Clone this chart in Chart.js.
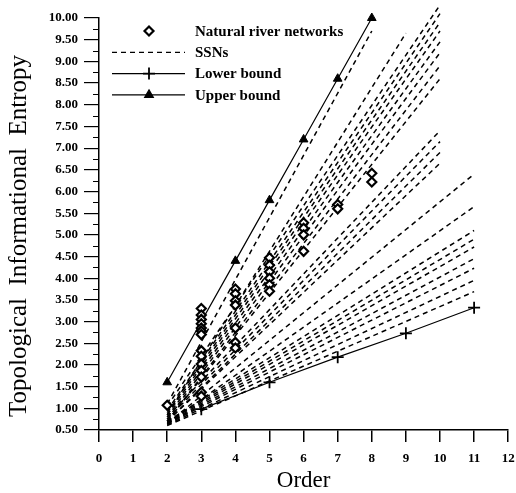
<!DOCTYPE html>
<html>
<head>
<meta charset="utf-8">
<script src="https://cdn.jsdelivr.net/npm/chart.js@4/dist/chart.umd.min.js"></script>
<style>
  body{margin:0;background:#fff;}
  #wrap{width:516px;height:493px;}
</style>
</head>
<body>
<div id="wrap"><canvas id="myChart" width="516" height="493"></canvas></div>
<script>
// natural river networks (diamonds)
var naturalOrders=[2, 3,3,3,3,3,3,3,3,3,3,3,3,3,3, 4,4,4,4,4,4,4, 5,5,5,5,5,5, 6,6,6,6, 7,7, 8,8];
var naturalValues=[1.07, 3.30,3.15,3.05,2.95,2.85,2.78,2.70,2.33,2.20,2.02,1.87,1.72,1.37,1.28,
                   3.75,3.64,3.48,3.38,2.85,2.52,2.39, 4.47,4.30,4.15,4.00,3.85,3.70, 5.28,5.15,5.00,4.62, 5.70,5.60, 6.42,6.22];

// bounds
var lowerOrders=[3,5,7,9,11];
var lowerValues=[0.98,1.60,2.18,2.73,3.32];
var upperOrders=[2,4,5,6,7,8];
var upperValues=[1.60,4.40,5.80,7.20,8.60,10.00];

// SSN lines: one straight dashed line per simulated network
var ssnStartOrder=[2,2,2,2,2,2,2,2,2,2, 2,2,2,2, 2,2, 2,2,2,2,2,2,2];
var ssnStartValue=[1.05,0.95,0.90,0.85,0.80,0.75,0.70,0.70,1.10,0.85, 0.80,0.75,0.70,0.70, 0.65,0.65, 0.70,0.68,0.66,0.65,0.64,0.62,0.60];
var ssnEndOrder=[10,10,10,10,10,10,10,10,8,9, 10,10,10,10, 11,11, 11,11,11,11,11,11,11];
var ssnEndValue=[10.30,10.10,9.90,9.70,9.45,9.20,8.90,8.60,9.70,9.65, 7.40,7.15,6.90,6.65, 6.40,5.65, 5.10,4.90,4.72,4.45,4.23,3.95,3.69];

var xTicks=[0,1,2,3,4,5,6,7,8,9,10,11,12];
var legendLabels=["Natural river networks","SSNs","Lower bound","Upper bound"];
var yTitle="Topological  Informational  Entropy";

var serif="'Liberation Serif', 'DejaVu Serif', serif";

function pts(xs,ys){
    return xs.map(function(v,i){ return {x:v,y:ys[i]}; });
}

var datasets=[];
datasets.push({label:legendLabels[0],data:pts(naturalOrders,naturalValues),showLine:false,
    pointStyle:'rectRot',pointRadius:4.5,pointBorderWidth:2.2,pointBorderColor:'#000',pointBackgroundColor:'#fff',order:0,clip:false});
datasets.push({label:legendLabels[2],data:pts(lowerOrders,lowerValues),showLine:true,borderColor:'#000',borderWidth:1.2,
    pointStyle:'cross',pointRadius:6,pointBorderWidth:1.8,pointBorderColor:'#000',order:1,clip:false});
datasets.push({label:legendLabels[3],data:pts(upperOrders,upperValues),showLine:true,borderColor:'#000',borderWidth:1.2,
    pointStyle:'triangle',pointRadius:5,pointBorderWidth:1,pointBorderColor:'#000',pointBackgroundColor:'#000',order:1,clip:false});
ssnStartOrder.forEach(function(v,i){
    datasets.push({label:legendLabels[1],data:[{x:v,y:ssnStartValue[i]},{x:ssnEndOrder[i],y:ssnEndValue[i]}],
        showLine:true,borderColor:'#000',borderWidth:1.5,borderDash:[5,4],pointRadius:0,order:2,clip:false});
});

// legend drawn inside the plot, top left
var innerLegend={
    id:'innerLegend',
    afterDraw:function(chart){
        var ctx=chart.ctx, a=chart.chartArea;
        var x0=a.left+13, x1=a.left+86, xm=a.left+50, xt=a.left+96;
        ctx.save();
        ctx.strokeStyle='#000'; ctx.fillStyle='#000';
        legendLabels.forEach(function(lbl,i){
            var y=a.top+13+i*21.3;
            ctx.lineWidth=1.2; ctx.setLineDash([]);
            if(i==1){
                ctx.setLineDash([5,4]);
                ctx.beginPath(); ctx.moveTo(x0,y); ctx.lineTo(x1,y); ctx.stroke();
                ctx.setLineDash([]);
            }
            if(i>=2){
                ctx.beginPath(); ctx.moveTo(x0,y); ctx.lineTo(x1,y); ctx.stroke();
            }
            if(i==0){
                ctx.lineWidth=2.2; ctx.fillStyle='#fff';
                Chart.helpers.drawPoint(ctx,{pointStyle:'rectRot',radius:4.5,borderWidth:2.2},xm,y);
                ctx.fillStyle='#000';
            }
            if(i==2){
                ctx.lineWidth=1.8;
                Chart.helpers.drawPoint(ctx,{pointStyle:'cross',radius:6,borderWidth:1.8},xm,y);
            }
            if(i==3){
                Chart.helpers.drawPoint(ctx,{pointStyle:'triangle',radius:5,borderWidth:1},xm,y);
            }
            ctx.fillStyle='#000';
            ctx.font="bold 15px "+serif;
            ctx.textBaseline='middle'; ctx.textAlign='left';
            ctx.fillText(lbl,xt,y+1);
        });
        ctx.restore();
    }
};

// short minor ticks halfway between the labelled y ticks, and the y title
var minorTicks={
    id:'minorTicks',
    afterDraw:function(chart){
        var ctx=chart.ctx, y=chart.scales.y;
        ctx.save();
        ctx.strokeStyle='#000'; ctx.lineWidth=1;
        for(var v=0.75;v<10;v+=0.5){
            var py=Math.round(y.getPixelForValue(v))+0.5;
            ctx.beginPath(); ctx.moveTo(y.right-6,py); ctx.lineTo(y.right,py); ctx.stroke();
        }
        ctx.translate(19,(chart.chartArea.top+chart.chartArea.bottom)/2+12);
        ctx.rotate(-Math.PI/2);
        ctx.font="25px "+serif; ctx.fillStyle='#000';
        ctx.textAlign='center'; ctx.textBaseline='middle';
        ctx.fillText(yTitle,0,0);
        ctx.restore();
    }
};

var ctx=document.getElementById("myChart").getContext("2d");
var myChart=new Chart(ctx,{
    type:'scatter',
    data:{datasets:datasets},
    options:{
        responsive:false,
        animation:false,
        layout:{padding:{top:18,right:5,left:0,bottom:0}},
        plugins:{legend:{display:false},tooltip:{enabled:false}},
        scales:{
            x:{
                type:'linear',min:0,max:12,
                afterBuildTicks:function(s){ s.ticks=xTicks.map(function(v){return {value:v};}); },
                afterFit:function(s){ s.height=63; s.paddingLeft=0; s.paddingRight=0; },
                border:{display:true,color:'#000',width:1.5},
                grid:{drawOnChartArea:false,drawTicks:true,tickLength:12,color:'#000',lineWidth:1.5},
                ticks:{color:'#000',padding:9,font:{family:serif,size:13,weight:'bold'}},
                title:{display:true,text:'Order',color:'#000',font:{family:serif,size:23},padding:{top:0,bottom:-2}}
            },
            y:{
                type:'linear',min:0.5,max:10,
                ticks:{stepSize:0.5,color:'#000',padding:6,font:{family:serif,size:13,weight:'bold'},
                    callback:function(v){ return v.toFixed(2); }},
                afterFit:function(s){ s.width=99; s.paddingTop=0; s.paddingBottom=0; },
                border:{display:true,color:'#000',width:1.5},
                grid:{drawOnChartArea:false,drawTicks:true,tickLength:15,color:'#000',lineWidth:1.2}
            }
        }
    },
    plugins:[innerLegend,minorTicks]
});
</script>
</body>
</html>
